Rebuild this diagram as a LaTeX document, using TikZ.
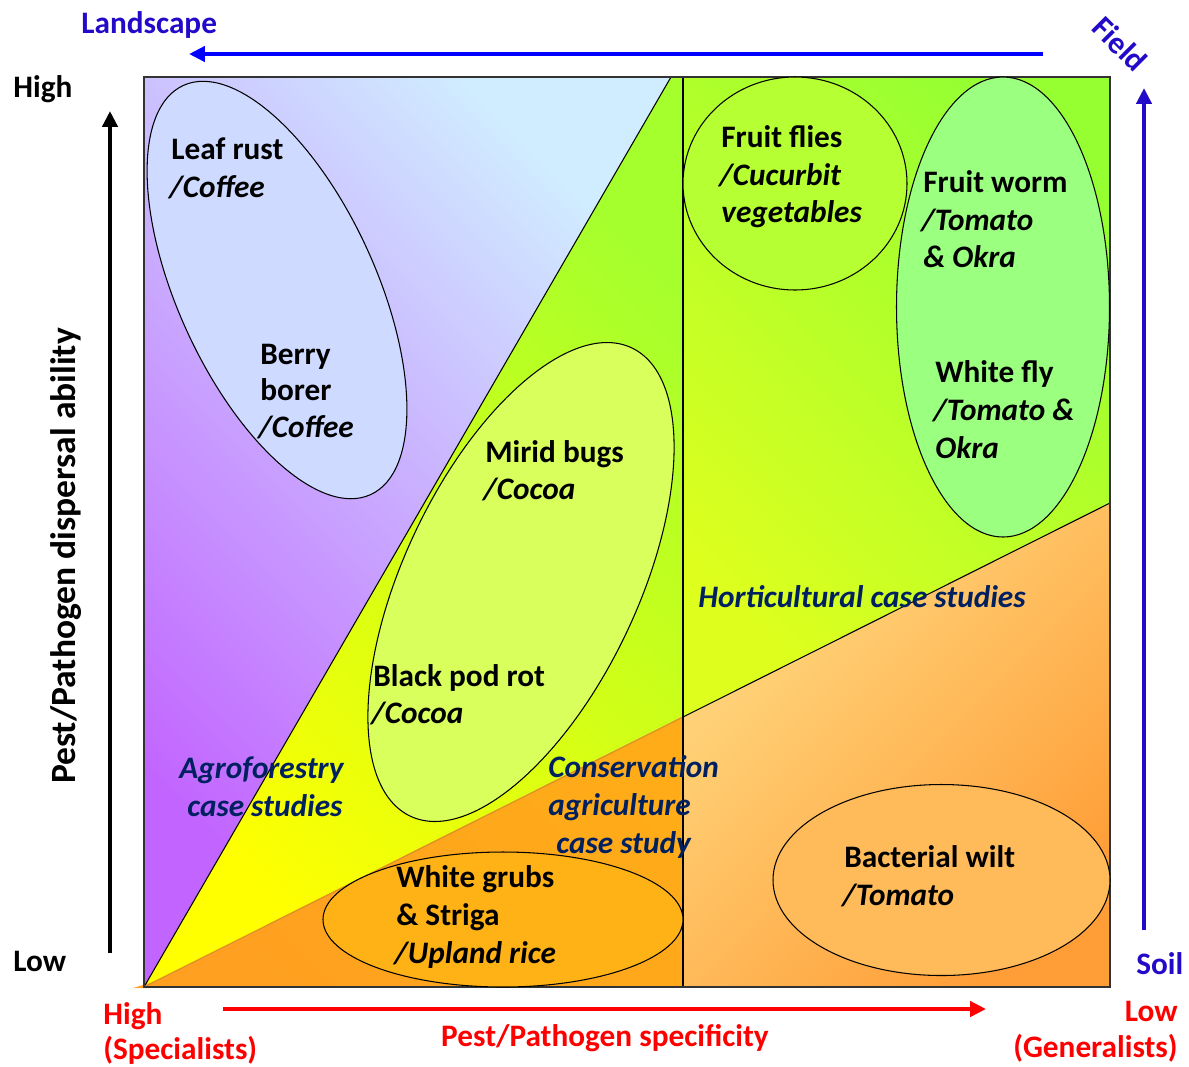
\documentclass[tikz,border=0pt]{standalone}
\usepackage{fontspec}
\setmainfont{Carlito}
\usetikzlibrary{arrows.meta}
\definecolor{navytxt}{RGB}{0,32,96}
\definecolor{scaleblue}{RGB}{34,10,200}
\definecolor{arrblue}{RGB}{0,0,255}
\definecolor{purpA}{RGB}{194,100,255}
\definecolor{purpB}{RGB}{208,236,255}
\definecolor{yelA}{RGB}{255,255,0}
\definecolor{yelB}{RGB}{165,255,45}
\definecolor{grnA}{RGB}{222,255,30}
\definecolor{grnB}{RGB}{150,255,50}
\definecolor{orgA}{RGB}{255,160,32}
\definecolor{orgB}{RGB}{255,172,24}
\definecolor{lorA}{RGB}{255,218,130}
\definecolor{lorB}{RGB}{255,158,55}
\definecolor{fillLeaf}{RGB}{206,218,255}
\definecolor{fillMirid}{RGB}{216,255,92}
\definecolor{fillFly}{RGB}{182,255,50}
\definecolor{fillWorm}{RGB}{155,255,128}
\definecolor{fillGrub}{RGB}{255,178,22}
\definecolor{fillWilt}{RGB}{255,187,90}
\definecolor{orgline}{RGB}{225,145,40}
\tikzset{
  lbl/.style={anchor=base west, inner sep=0pt, font=\fontsize{17.8}{21}\selectfont\bfseries},
  ilbl/.style={anchor=base west, inner sep=0pt, font=\fontsize{17.8}{21}\selectfont\bfseries\itshape},
  cs/.style={anchor=base west, inner sep=0pt, text=navytxt, font=\fontsize{17.8}{21}\selectfont\bfseries\itshape},
  axl/.style={inner sep=0pt, font=\fontsize{17.8}{21}\selectfont\bfseries},
  blob/.style={draw=black, line width=0.6pt},
  bigarrow/.style={line width=2.4pt, -{Triangle[length=9pt,width=8.5pt]}},
}
\begin{document}
\begin{tikzpicture}[x=0.02cm,y=-0.02cm]
\useasboundingbox (0,0) rectangle (1189,1066);
% regions
\shade[bottom color=purpA, top color=purpB, shading angle=-45] (144,987) -- (144,77) -- (671,77) -- cycle;
\shade[bottom color=yelA, top color=yelB, shading angle=-45] (144,987) -- (671,77) -- (683,77) -- (683,717) -- cycle;
\shade[bottom color=grnA, top color=grnB, shading angle=-45] (683,717) -- (683,77) -- (1110,77) -- (1110,503) -- cycle;
\shade[bottom color=orgA, top color=orgB, shading angle=-45] (144,987) -- (683,717) -- (683,987) -- cycle;
\shade[top color=lorA, bottom color=lorB, shading angle=45] (683,717) -- (1110,503) -- (1110,987) -- (683,987) -- cycle;
\fill[orgA] (133,988) -- (150,983) -- (150,988) -- cycle;
% lines
\draw[line width=0.6pt] (144,987) -- (671,77);
\draw[orgline, line width=0.8pt] (144,987) -- (683,717);
\draw[line width=0.6pt] (683,717) -- (1110,503);
\draw[line width=0.6pt] (683,77) -- (683,987);
\draw[line width=0.8pt, black!80] (144,77) rectangle (1110,987);
% ellipses
\draw[blob, fill=fillLeaf, rotate around={-65.4:(277,290)}] (277,290) ellipse [x radius=225, y radius=99];
\draw[blob, fill=fillMirid, rotate around={64.7:(521,582)}] (521,582) ellipse [x radius=259, y radius=117];
\draw[blob, fill=fillFly] (795,183.5) ellipse [x radius=112, y radius=106.5];
\draw[blob, fill=fillWorm] (1003,307) ellipse [x radius=106.5, y radius=230];
\draw[blob, fill=fillGrub] (503,919.5) ellipse [x radius=180, y radius=67.5];
\draw[blob, fill=fillWilt] (941.5,880) ellipse [x radius=168.5, y radius=95.5];
% pest labels
\node[lbl] (lr1) at (171,159) {Leaf rust};
\node[ilbl] (lr2) at (169,197) {/Coffee};
\node[lbl] (bb1) at (260,364) {Berry};
\node[lbl] (bb2) at (260,400) {borer};
\node[ilbl] (bb3) at (258,437) {/Coffee};
\node[lbl] (ff1) at (721,147) {Fruit flies};
\node[ilbl] (ff2) at (719,185) {/Cucurbit};
\node[ilbl] (ff3) at (721,222) {vegetables};
\node[lbl] (fw1) at (923,192) {Fruit worm};
\node[ilbl] (fw2) at (921,230) {/Tomato};
\node[ilbl] (fw3) at (923,267) {\& Okra};
\node[lbl] (wf1) at (935,382) {White fly};
\node[ilbl] (wf2) at (933,420) {/Tomato \&};
\node[ilbl] (wf3) at (935,458) {Okra};
\node[lbl] (mb1) at (485,462) {Mirid bugs};
\node[ilbl] (mb2) at (483,499) {/Cocoa};
\node[lbl] (bp1) at (373,686) {Black pod rot};
\node[ilbl] (bp2) at (371,723) {/Cocoa};
\node[lbl] (wg1) at (396,887) {White grubs};
\node[lbl] (wg2) at (396,925) {\& Striga};
\node[ilbl] (wg3) at (394,963) {/Upland rice};
\node[lbl] (bw1) at (844,867) {Bacterial wilt};
\node[ilbl] (bw2) at (842,905) {/Tomato};
% case study labels
\node[cs] (hc) at (698,607) {Horticultural case studies};
\node[cs] (af1) at (179,778) {Agroforestry};
\node[cs] (af2) at (187,816) {case studies};
\node[cs] (ca1) at (548,777) {Conservation};
\node[cs] (ca2) at (548,815) {agriculture};
\node[cs] (ca3) at (556,853) {case study};
% axes
\coordinate (lsA) at (1043,54); \coordinate (lsB) at (189,54);
\draw[bigarrow, arrblue] (lsA) -- (lsB);
\coordinate (dvA) at (110,953); \coordinate (dvB) at (110,111);
\draw[bigarrow, black] (dvA) -- (dvB);
\coordinate (sfA) at (1144,930); \coordinate (sfB) at (1144,88);
\draw[bigarrow, scaleblue] (sfA) -- (sfB);
\coordinate (spA) at (223,1009); \coordinate (spB) at (986,1009);
\draw[bigarrow, red] (spA) -- (spB);
\node[axl, anchor=base west, text=scaleblue] (land) at (81,33) {Landscape};
\node[axl, text=scaleblue, rotate=-45] (field) at (1120,44) {Field};
\node[axl, anchor=base west, text=scaleblue] (soil) at (1136,974) {Soil};
\node[axl, anchor=base west] (hi) at (13,97) {High};
\node[axl, anchor=base west] (lo) at (13,971) {Low};
\node[axl, anchor=base, rotate=90, font=\fontsize{20.2}{24}\selectfont\bfseries] (disp) at (75,556) {Pest/Pathogen dispersal ability};
\node[axl, anchor=base west, text=red] (shi) at (103,1024) {High};
\node[axl, anchor=base west, text=red] (shi2) at (103,1059) {(Specialists)};
\node[axl, anchor=base east, text=red] (slo) at (1178,1021) {Low};
\node[axl, anchor=base east, text=red] (slo2) at (1178,1057) {(Generalists)};
\node[axl, anchor=base, text=red] (spec) at (605,1046) {Pest/Pathogen specificity};
\end{tikzpicture}
\end{document}
